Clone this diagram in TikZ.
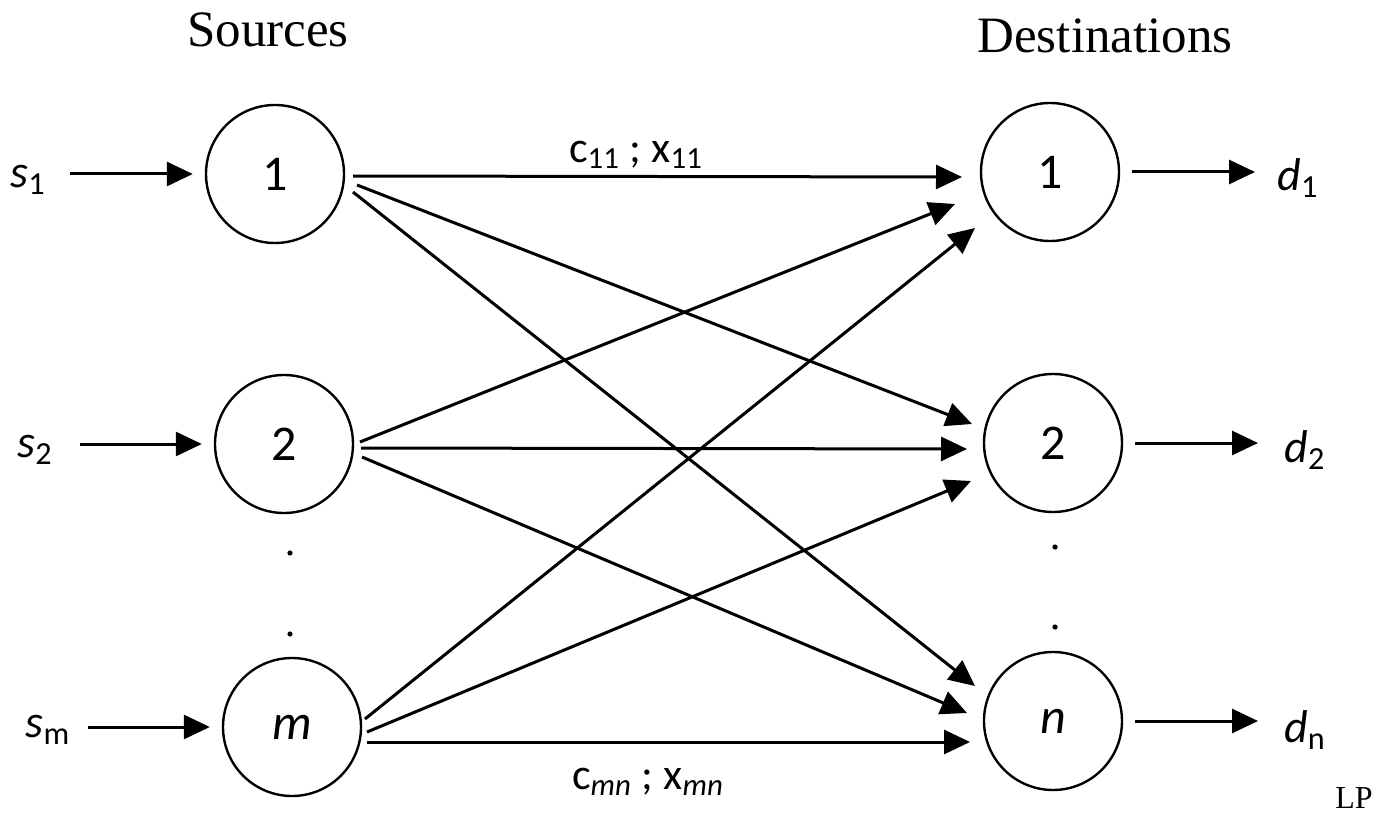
\documentclass[tikz,border=0pt]{standalone}
\usepackage{fontspec}
\setmainfont{Carlito}
\newfontfamily\serifface{Liberation Serif}
\usetikzlibrary{arrows.meta,calc}
\begin{document}
\begin{tikzpicture}[x=0.5pt,y=-0.5pt,
  vertex/.style={circle,draw,line width=1.2pt,minimum size=69pt,inner sep=0pt,font=\fontsize{25}{28}\selectfont},
  flow/.style={line width=1.5pt,-{Triangle[length=13pt,width=12pt]}},
  heading/.style={font=\serifface\fontsize{25.5}{28}\selectfont},
  lab/.style={font=\fontsize{23}{25}\selectfont,inner sep=0pt},
  elab/.style={font=\fontsize{22}{24}\selectfont,inner sep=0pt},
  dotmark/.style={fill=black}]
\useasboundingbox (0,0) rectangle (1383,813);
% headings
\node[heading] (hs) at (268,30) {Sources};
\node[heading] (hd) at (1105,36) {Destinations};
\node[font=\serifface\fontsize{16}{18}\selectfont] (lp) at (1354,798) {LP};
% nodes
\node[vertex] (S1) at (275,174) {1};
\node[vertex] (S2) at (284,444) {2};
\node[vertex] (Sm) at (292,727) {\textit{m}};
\node[vertex] (D1) at (1050,172) {1};
\node[vertex] (D2) at (1053,443) {2};
\node[vertex] (Dn) at (1053,721) {\textit{n}};
% ellipsis dots
\fill[dotmark] (290,553) circle (1.3pt);
\fill[dotmark] (290,634) circle (1.3pt);
\fill[dotmark] (1055,547) circle (1.3pt);
\fill[dotmark] (1055,627) circle (1.3pt);
% supply labels and inputs
\node[lab] (ls1) at (28,180) {\textit{s}\textsubscript{1}};
\node[lab] (ls2) at (35,450) {\textit{s}\textsubscript{2}};
\node[lab] (lsm) at (48,730) {\textit{s}\textsubscript{m}};
\coordinate (in1) at (70,174);
\coordinate (in2) at (80,444);
\coordinate (inm) at (88,727);
\draw[flow,shorten >=6pt] (in1) -- (S1);
\draw[flow,shorten >=6pt] (in2) -- (S2);
\draw[flow,shorten >=6pt] (inm) -- (Sm);
% demand labels and outputs
\node[lab] (ld1) at (1298,178) {\textit{d}\textsubscript{1}};
\node[lab] (ld2) at (1305,450) {\textit{d}\textsubscript{2}};
\node[lab] (ldn) at (1305,730) {\textit{d}\textsubscript{n}};
\coordinate (out1) at (1255,172);
\coordinate (out2) at (1258,443);
\coordinate (outn) at (1258,721);
\draw[flow,shorten <=6pt] (D1) -- (out1);
\draw[flow,shorten <=6pt] (D2) -- (out2);
\draw[flow,shorten <=6pt] (Dn) -- (outn);
% transport arcs
\draw[flow] ($(S1)+(78,2)$) -- ($(D1)+(-88,5)$);
\draw[flow] ($(S1)+(82,11)$) -- ($(D2)+(-81,-19)$);
\draw[flow] ($(S1)+(78,18)$) -- ($(Dn)+(-78,-35)$);
\draw[flow] ($(S2)+(76,-2)$) -- ($(D1)+(-95,32)$);
\draw[flow] ($(S2)+(77,4)$) -- ($(D2)+(-86,6)$);
\draw[flow] ($(S2)+(78,13)$) -- ($(Dn)+(-86,-8)$);
\draw[flow] ($(Sm)+(73,-8)$) -- ($(D1)+(-75,56)$);
\draw[flow] ($(Sm)+(75,5)$) -- ($(D2)+(-82,38)$);
\draw[flow] ($(Sm)+(75,15)$) -- ($(Dn)+(-83,21)$);
% arc labels
\node[elab] (l11) at (636,155) {c\textsubscript{11} ; x\textsubscript{11}};
\node[elab] (lmn) at (648,782) {c\textsubscript{\textit{mn}} ; x\textsubscript{\textit{mn}}};
\end{tikzpicture}
\end{document}
